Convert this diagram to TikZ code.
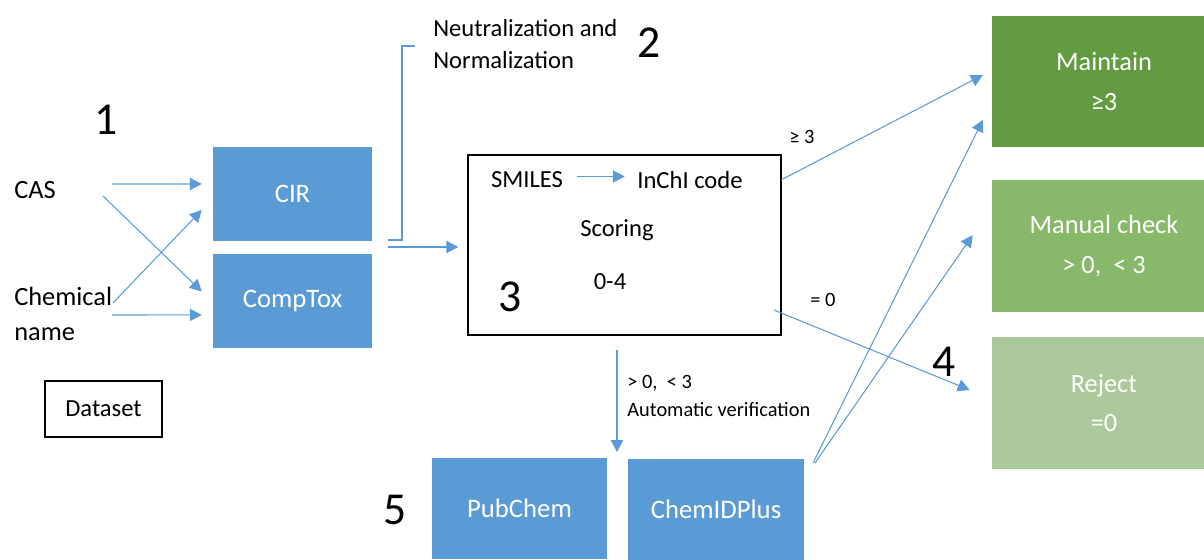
\documentclass[tikz,border=0pt]{standalone}
\usepackage{fontspec}
\setmainfont{Carlito}
\usetikzlibrary{arrows.meta}
\definecolor{toolblue}{HTML}{5B9BD5}
\definecolor{keepgreen}{HTML}{639C40}
\definecolor{checkgreen}{HTML}{88B96A}
\definecolor{rejectgreen}{HTML}{ABC99A}

\begin{document}
\begin{tikzpicture}[x=0.02cm, y=-0.02cm,
  tool/.style={fill=toolblue, text=white, inner sep=0,
    font=\fontsize{15.2}{18}\selectfont, minimum width=3.18cm, minimum height=1.88cm},
  result/.style={text=white, inner sep=0, align=center,
    font=\fontsize{15}{22.7}\selectfont, minimum width=4.48cm, minimum height=2.64cm},
  plain/.style={inner sep=0, font=\fontsize{15}{20}\selectfont},
  small/.style={inner sep=0, font=\fontsize{14}{18.2}\selectfont},
  tiny/.style={inner sep=0, font=\fontsize{11.6}{15.3}\selectfont},
  step number/.style={inner sep=0, font=\fontsize{26}{30}\selectfont},
  link/.style={draw=toolblue, line width=0.6pt, -{Triangle[length=6.8pt,width=7pt]}}]
\useasboundingbox (0,0) rectangle (1204,559);

% input side
\node[plain, anchor=west] (cas) at (14,190) {CAS};
\node[plain, anchor=west, align=left] (chem) at (14,314) {Chemical\\name};
\node[small, draw, line width=0.9pt, minimum width=2.34cm, minimum height=1.12cm] (dataset) at (103.5,409) {Dataset};
\node[step number] (n1) at (106,120) {1};

\node[tool] (cir) at (292.5,194) {CIR};
\node[tool] (comptox) at (292.5,300.5) {CompTox};

\coordinate (cas-a) at (112,184);
\coordinate (cas-b) at (103,196);
\coordinate (chem-a) at (113,303);
\coordinate (chem-b) at (112,315);
\draw[link] (cas-a) -- ([xshift=-6.2pt,yshift=5.7pt]cir.west);
\draw[link] (cas-b) -- ([xshift=-6.2pt,yshift=5.1pt]comptox.west);
\draw[link] (chem-a) -- ([xshift=-6.2pt,yshift=-9.1pt]cir.west);
\draw[link] (chem-b) -- ([xshift=-6.2pt,yshift=-8.2pt]comptox.west);

% neutralization step
\node[small, anchor=west, align=left] (neutral) at (433,44) {Neutralization and\\Normalization};
\node[step number] (n2) at (649,43) {2};
\draw[toolblue, line width=0.6pt] (388,240) -- (402,240) -- (402,46) -- (415,46);

% scoring box
\node[draw, line width=1.1pt, minimum width=6.26cm, minimum height=3.6cm] (score) at (624.5,245) {};
\node[small] (smiles) at (527,180) {SMILES};
\node[small] (inchi) at (690,180) {InChI code};
\node[small] (scoring) at (617,230) {Scoring};
\node[small] (range) at (610,282) {0-4};
\node[step number] (n3) at (510,297) {3};
\draw[link, shorten <=8pt, shorten >=7pt] ([yshift=2pt]smiles.east) -- ([yshift=2pt]inchi.west);

\coordinate (tools-out) at (388,247);
\draw[link] (tools-out) -- ([xshift=-5pt]score.west |- tools-out);

% verification
\node[tool, minimum width=3.5cm, minimum height=2.02cm] (pubchem) at (519.5,508.5) {PubChem};
\node[tool, minimum width=3.52cm, minimum height=2.02cm] (chemid) at (716,509) {ChemIDPlus};
\node[step number] (n5) at (395,510) {5};
\coordinate (down) at (617,350);
\draw[link] (down) -- (617,452);
\node[tiny, anchor=west] (mid-range) at (627,383) {> 0,\ \ < 3};
\node[tiny, anchor=west] (auto) at (627,410) {Automatic verification};

% outcome
\node[result, fill=keepgreen] (maintain) at (1104,81.5) {Maintain\\≥3};
\node[result, fill=checkgreen] (manual) at (1104,246) {Manual check\\> 0,\ \ < 3};
\node[result, fill=rejectgreen] (reject) at (1104,403) {Reject\\=0};
\node[step number] (n4) at (944,362) {4};

\coordinate (high) at (781,180);
\coordinate (zero) at (774,310);
\coordinate (chemid-a) at (813,463);
\coordinate (chemid-b) at (815,463);
\draw[link] (high) -- ([xshift=-5pt,yshift=3.7pt]maintain.west);
\draw[link] (zero) -- ([xshift=-12.5pt,yshift=7.4pt]reject.west);
\draw[link] (chemid-a) -- ([xshift=-5pt,yshift=-21.8pt]maintain.west);
\draw[link] (chemid-b) -- ([xshift=-10.8pt,yshift=6.2pt]manual.west);
\node[tiny] (ge3) at (802,137) {≥ 3};
\node[tiny] (eq0) at (823,300) {= 0};
\end{tikzpicture}
\end{document}
